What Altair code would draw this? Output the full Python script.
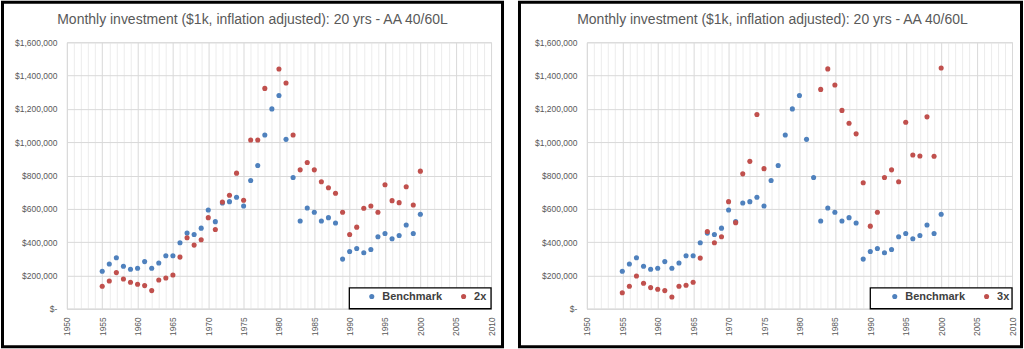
import altair as alt
import pandas as pd

# ---- data ----
years = list(range(1955, 2001))
benchmark = [225000, 269000, 306000, 255000, 237000, 243000, 283000, 243000, 275000, 318000,
             318000, 396000, 454000, 446000, 484000, 593000, 523000, 635000, 643000, 669000,
             617000, 770000, 860000, 1043000, 1200000, 1280000, 1017000, 788000, 527000, 605000,
             579000, 527000, 547000, 515000, 298000, 344000, 362000, 336000, 356000, 432000,
             452000, 420000, 440000, 503000, 452000, 567000]
lev2x = [135000, 167000, 217000, 179000, 159000, 147000, 139000, 109000, 173000, 185000,
         203000, 310000, 426000, 382000, 414000, 547000, 476000, 641000, 681000, 814000,
         651000, 1013000, 1013000, 1323000, None, 1439000, 1355000, 1043000, 834000, 878000,
         834000, 762000, 726000, 693000, 579000, 446000, 490000, 603000, 617000, 579000,
         744000, 649000, 637000, 732000, 623000, 826000]
lev3x = [96000, 135000, 197000, 153000, 127000, 117000, 109000, 70000, 135000, 141000,
         159000, 304000, 464000, 396000, 432000, 643000, 517000, 810000, 885000, 1166000,
         841000, None, None, None, None, None, None, None, 1317000, 1440000,
         1343000, 1191000, 1114000, 1050000, 756000, 496000, 579000, 788000, 834000, 762000,
         1120000, 923000, 917000, 1152000, 916000, 1445000]

title_text = "Monthly investment ($1k, inflation adjusted): 20 yrs - AA 40/60L"
x_ticks = list(range(1950, 2011))
y_ticks = list(range(0, 1600001, 200000))

BLUE = "#4F81BD"
RED = "#C0504D"
GREY_TXT = "#595959"
GRID = "#d9d9d9"
MINOR = "#ececec"
FONT = "Liberation Sans"


def panel(label, values, width, height, border, legend_x, legend_y, title_x):
    df = pd.concat([
        pd.DataFrame({"year": years, "value": benchmark, "series": "Benchmark"}),
        pd.DataFrame({"year": years, "value": values, "series": label}),
    ], ignore_index=True).dropna()

    x_axis = alt.Axis(values=x_ticks, format="d",
                      labelExpr="datum.value % 5 === 0 ? datum.label : ''",
                      labelAngle=270, labelOverlap=False, labelFlush=False,
                      ticks=False, domainColor=GRID, title=None,
                      gridColor={"condition": {"test": "datum.value % 5 === 0", "value": GRID},
                                 "value": MINOR},
                      labelFont=FONT, labelFontSize=8.5, labelColor=GREY_TXT, labelPadding=8)
    y_axis = alt.Axis(values=y_ticks,
                      labelExpr="datum.value === 0 ? '$-' : '$' + format(datum.value, ',')",
                      ticks=False, domain=False, gridColor=GRID, title=None,
                      labelFont=FONT, labelFontSize=8.5, labelColor=GREY_TXT, labelPadding=10)

    points = alt.Chart(df).mark_circle(size=26, opacity=1).encode(
        x=alt.X("year:Q", scale=alt.Scale(domain=[1950, 2010], nice=False, zero=False), axis=x_axis),
        y=alt.Y("value:Q", scale=alt.Scale(domain=[0, 1600000], nice=False), axis=y_axis),
        color=alt.Color("series:N", sort=["Benchmark", label],
                        scale=alt.Scale(domain=["Benchmark", label], range=[BLUE, RED]),
                        legend=alt.Legend(orient="none", legendX=legend_x, legendY=legend_y,
                                          direction="horizontal", title=None,
                                          symbolType="circle", symbolSize=26,
                                          symbolStrokeWidth=0,
                                          labelFont=FONT, labelFontSize=11,
                                          labelFontWeight="bold", labelColor="#404040",
                                          labelOffset=5, columnPadding=16, padding=0)),
        order=alt.Order("order:Q"),
    ).transform_calculate(order="datum.series === 'Benchmark' ? 0 : 1")

    one = pd.DataFrame({"t": [title_text]})
    legend_box = alt.Chart(one).mark_rect(fill="white", stroke="black", strokeWidth=1.3).encode(
        x=alt.value(width - 142), x2=alt.value(width),
        y=alt.value(height - 21), y2=alt.value(height))
    frame = alt.Chart(one).mark_rect(fillOpacity=0, stroke="black", strokeWidth=3).encode(
        x=alt.value(border[0]), x2=alt.value(border[1]),
        y=alt.value(border[2]), y2=alt.value(border[3]))
    title = alt.Chart(one).mark_text(font=FONT, fontSize=14, color=GREY_TXT,
                                     align="center", baseline="alphabetic").encode(
        text="t:N", x=alt.value(title_x), y=alt.value(-18))

    return alt.layer(legend_box, points, title, frame).properties(width=width, height=height)


left = panel("2x", lev2x, 425, 267, (-64.5, 436.5, -40, 305), 300, 249, 186)
right = panel("3x", lev3x, 426, 267, (-67.5, 435.5, -40, 305), 303, 249, 186)

chart = alt.hconcat(left, right, spacing=12).resolve_scale(color="independent").configure_view(
    stroke=GRID).properties(padding=0)

chart.save("out.html", embed_options={"renderer": "svg", "actions": False})
